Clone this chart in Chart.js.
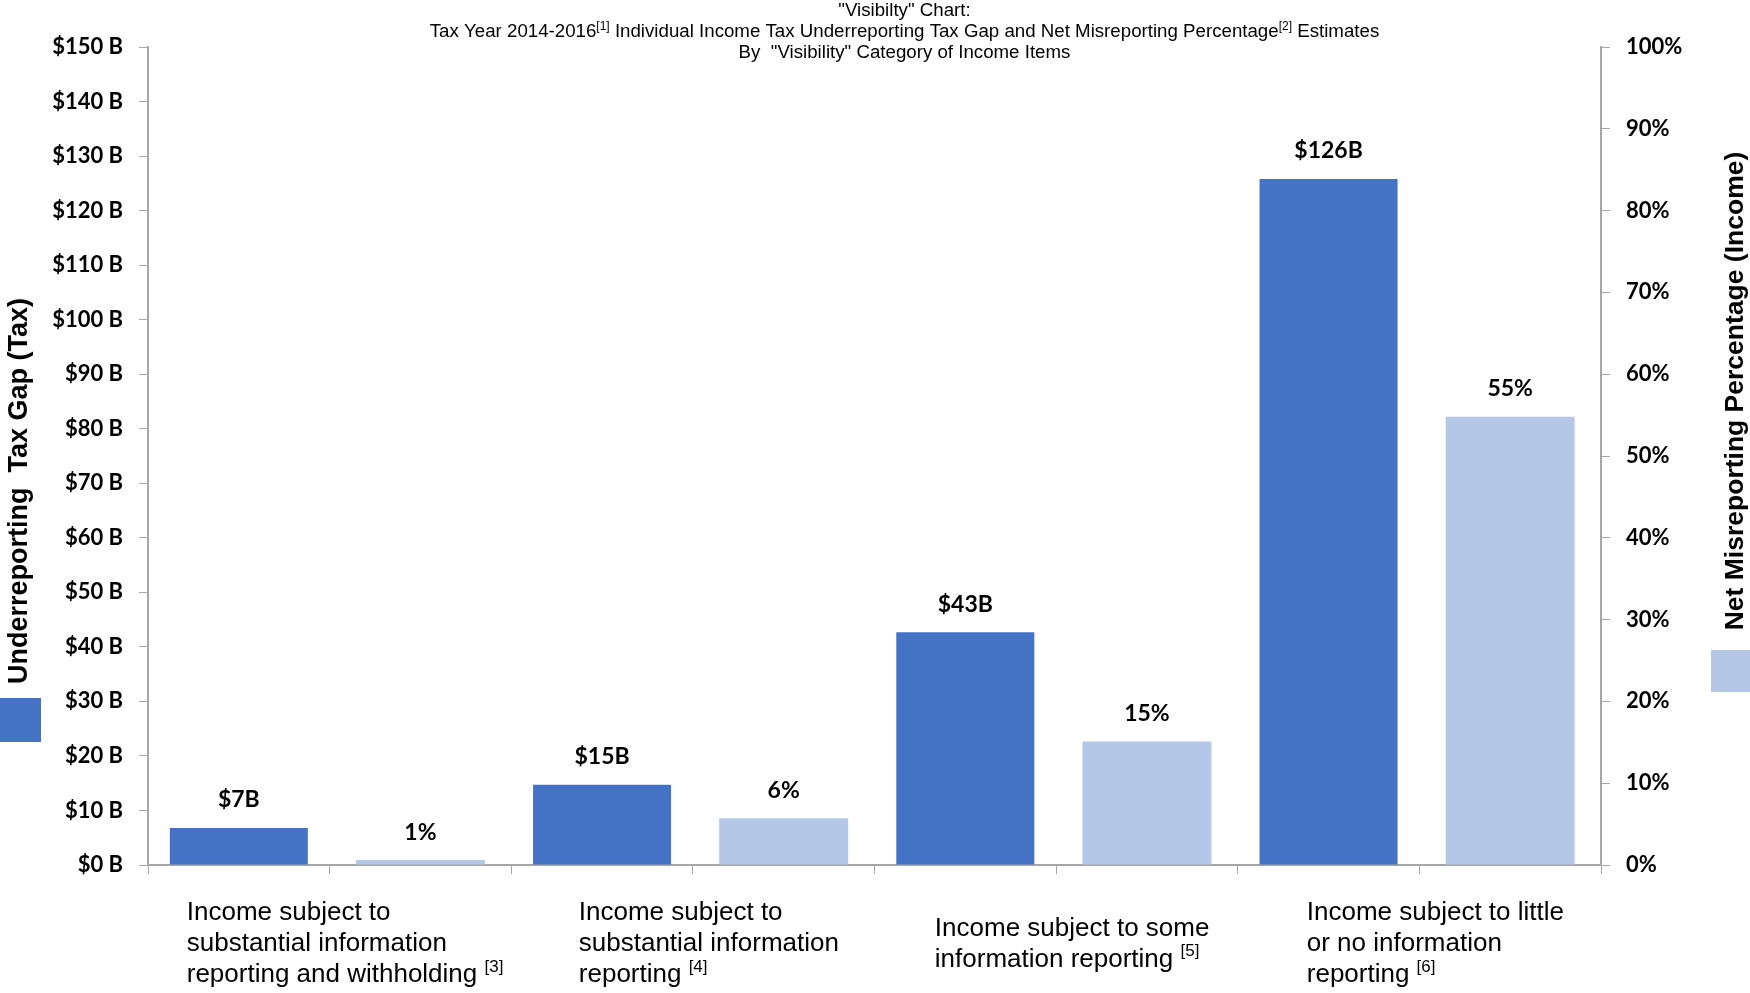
<!DOCTYPE html>
<html>
<head>
<meta charset="utf-8">
<script src="https://cdn.jsdelivr.net/npm/chart.js@4.4.1/dist/chart.umd.min.js"></script>
<style>
  html, body { margin: 0; padding: 0; background: #fff; }
</style>
</head>
<body>
<canvas id="visChart" width="1750" height="993"></canvas>
<script>
// data
const groupLabels = [
  ['Income subject to', 'substantial information', 'reporting and withholding'],
  ['Income subject to', 'substantial information', 'reporting'],
  ['Income subject to some', 'information reporting'],
  ['Income subject to little', 'or no information', 'reporting']
];
const groupNotes = ['[3]', '[4]', '[5]', '[6]'];
const taxGap = [6.8, 14.7, 42.7, 125.8];          // $ billions
const misreportPct = [0.6, 5.7, 15.1, 54.8];      // percent
const taxGapLabels = ['$7B', '$15B', '$43B', '$126B'];
const misreportLabels = ['1%', '6%', '15%', '55%'];
const taxTicks = [0, 10, 20, 30, 40, 50, 60, 70, 80, 90, 100, 110, 120, 130, 140, 150];
const pctTicks = [0, 10, 20, 30, 40, 50, 60, 70, 80, 90, 100];

const darkBlue = '#4472C4';
const lightBlue = '#B4C7E7';
const axisGrey = '#A6A6A6';
const boldFont = 'Lato, "Liberation Sans", Arial, sans-serif';
const arial = '"Liberation Sans", Arial, sans-serif';

// each income group gets two slots: tax gap bar, then misreporting bar
const slots = groupLabels.flatMap((g, i) => ['tax ' + i, 'pct ' + i]);
const taxData = taxGap.flatMap(v => [v, null]);
const pctData = misreportPct.flatMap(v => [null, v]);
const valueLabels = [taxGapLabels, misreportLabels];

// draws a line made of normal + superscript parts
function drawRich(ctx, parts, x, y, size, align) {
  const supSize = Math.round(size * 0.65);
  let total = 0;
  parts.forEach(p => {
    ctx.font = (p.sup ? supSize : size) + 'px ' + arial;
    p.w = ctx.measureText(p.t).width;
    total += p.w;
  });
  let cx = align === 'center' ? x - total / 2 : x;
  ctx.textAlign = 'left';
  ctx.textBaseline = 'middle';
  parts.forEach(p => {
    ctx.font = (p.sup ? supSize : size) + 'px ' + arial;
    ctx.fillText(p.t, cx, p.sup ? y - size * 0.3 : y);
    cx += p.w;
  });
  return total;
}

const decorations = {
  id: 'decorations',
  afterDatasetsDraw(chart) {
    const ctx = chart.ctx;
    const area = chart.chartArea;
    const x = chart.scales.x;
    ctx.save();
    ctx.fillStyle = '#000';

    // title
    const tx = (area.left + area.right) / 2 + 30;
    const ts = 18.7;
    drawRich(ctx, [{ t: '"Visibilty" Chart:' }], tx, 11, ts, 'center');
    drawRich(ctx, [
      { t: 'Tax Year 2014-2016' }, { t: '[1]', sup: true },
      { t: ' Individual Income Tax Underreporting Tax Gap and Net Misreporting Percentage' },
      { t: '[2]', sup: true }, { t: ' Estimates' }
    ], tx, 32, ts, 'center');
    drawRich(ctx, [{ t: 'By  "Visibility" Category of Income Items' }], tx, 53, ts, 'center');

    // value labels above bars
    ctx.font = 'bold 23px ' + boldFont;
    ctx.textAlign = 'center';
    ctx.textBaseline = 'middle';
    chart.data.datasets.forEach((ds, di) => {
      chart.getDatasetMeta(di).data.forEach((bar, i) => {
        if (ds.data[i] == null) return;
        ctx.fillText(valueLabels[di][Math.floor(i / 2)], bar.x, bar.y - 28);
      });
    });

    // category labels, one per pair of slots
    const lineH = 31, size = 26;
    groupLabels.forEach((lines, g) => {
      const cx = (x.getPixelForValue(g * 2) + x.getPixelForValue(g * 2 + 1)) / 2;
      ctx.font = size + 'px ' + arial;
      let maxW = 0;
      lines.forEach((l, li) => {
        let w = ctx.measureText(l).width;
        if (li === lines.length - 1) w += ctx.measureText(' ').width + 20;
        maxW = Math.max(maxW, w);
      });
      const left = cx - maxW / 2 + 16;
      const top = 944 - (lines.length - 1) * lineH / 2;
      lines.forEach((l, li) => {
        const parts = [{ t: l }];
        if (li === lines.length - 1) parts.push({ t: ' ' }, { t: groupNotes[g], sup: true });
        drawRich(ctx, parts, left, top + li * lineH, size, 'left');
      });
    });

    // axis titles
    ctx.textAlign = 'center';
    ctx.textBaseline = 'middle';
    ctx.font = 'bold 27px ' + arial;
    ctx.save();
    ctx.translate(20, 491);
    ctx.rotate(-Math.PI / 2);
    ctx.fillText('Underreporting  Tax Gap (Tax)', 0, 0);
    ctx.restore();
    ctx.font = 'bold 26.5px ' + arial;
    ctx.save();
    ctx.translate(1736, 391);
    ctx.rotate(-Math.PI / 2);
    ctx.fillText('Net Misreporting Percentage (Income)', 0, 0);
    ctx.restore();

    // legend swatches next to the axis titles
    ctx.fillStyle = chart.data.datasets[0].backgroundColor;
    ctx.fillRect(0, 698, 41, 44);
    ctx.fillStyle = chart.data.datasets[1].backgroundColor;
    ctx.fillRect(1711, 650, 39, 42);
    ctx.restore();
  }
};

new Chart(document.getElementById('visChart'), {
  type: 'bar',
  data: {
    labels: slots,
    datasets: [{
      label: 'Underreporting Tax Gap (Tax)',
      data: taxData,
      yAxisID: 'y',
      backgroundColor: darkBlue,
      barPercentage: 0.76,
      categoryPercentage: 1
    }, {
      label: 'Net Misreporting Percentage (Income)',
      data: pctData,
      yAxisID: 'y1',
      backgroundColor: lightBlue,
      barPercentage: 0.71,
      categoryPercentage: 1
    }]
  },
  options: {
    responsive: false,
    animation: false,
    skipNull: true,
    layout: { padding: { top: 47, left: 0, right: 0, bottom: 0 } },
    plugins: {
      legend: { display: false },
      title: { display: false },
      tooltip: { enabled: false }
    },
    scales: {
      x: {
        grid: { offset: true, drawOnChartArea: false, tickLength: 9, color: axisGrey },
        border: { color: axisGrey, width: 2 },
        ticks: { display: false },
        afterFit: s => { s.height = 128; }
      },
      y: {
        position: 'left',
        min: 0,
        max: 150,
        afterBuildTicks: s => { s.ticks = taxTicks.map(v => ({ value: v })); },
        ticks: {
          padding: 16,
          color: '#000',
          font: { family: boldFont, size: 22, weight: 'bold' },
          callback: v => '$' + v + ' B'
        },
        grid: { drawOnChartArea: false, tickLength: 9, color: axisGrey },
        border: { color: axisGrey, width: 2 },
        afterFit: s => { s.width = 148; }
      },
      y1: {
        position: 'right',
        min: 0,
        max: 100,
        afterBuildTicks: s => { s.ticks = pctTicks.map(v => ({ value: v })); },
        ticks: {
          padding: 16,
          color: '#000',
          font: { family: boldFont, size: 22, weight: 'bold' },
          callback: v => v + '%'
        },
        grid: { drawOnChartArea: false, tickLength: 9, color: axisGrey },
        border: { color: axisGrey, width: 2 },
        afterFit: s => { s.width = 149; }
      }
    }
  },
  plugins: [decorations]
});
</script>
</body>
</html>
